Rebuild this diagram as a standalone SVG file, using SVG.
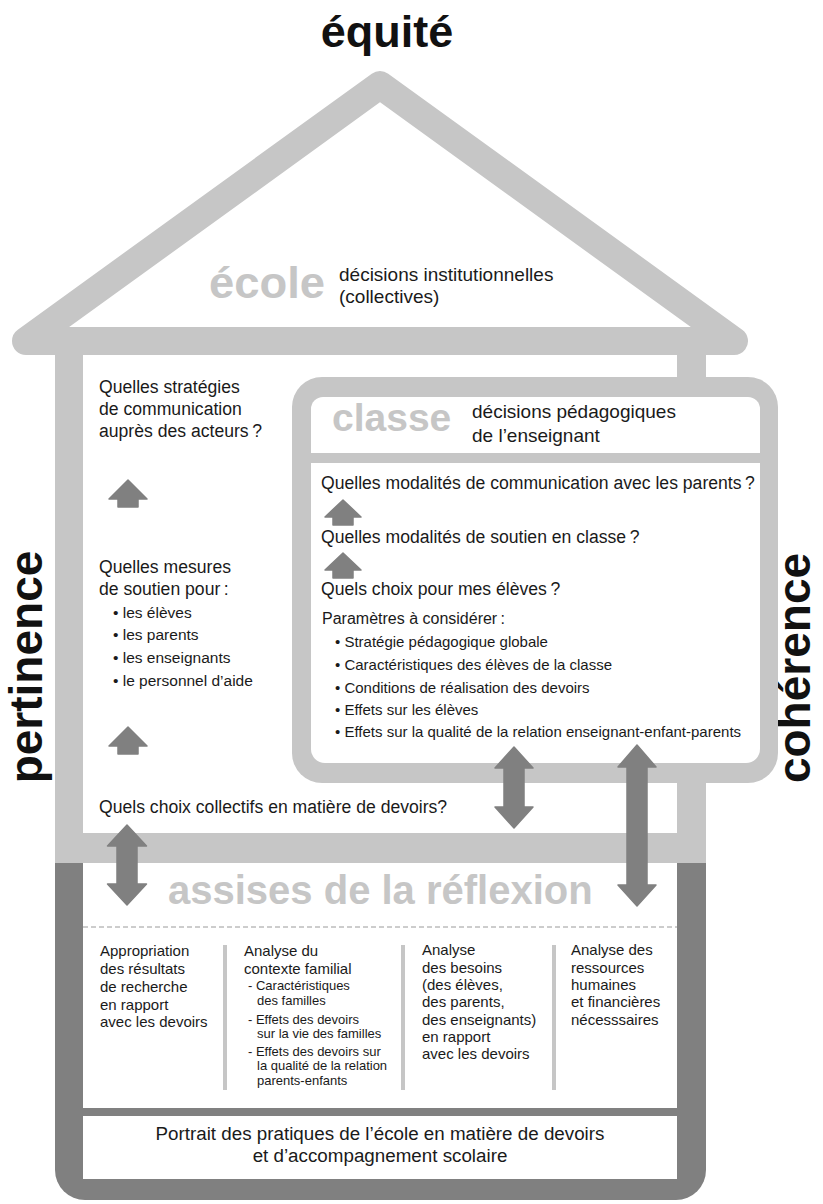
<svg xmlns="http://www.w3.org/2000/svg" width="823" height="1204" viewBox="0 0 823 1204">
<style>
text { font-family: "Liberation Sans", Arial, Helvetica, sans-serif; fill: #1a1a1a; }
.t { font-size: 17.6px; }
.s { font-size: 19px; }
.b { font-size: 15.5px; }
.p { font-size: 16px; }
.c { font-size: 15px; }
.m { font-size: 13px; }
.big { font-weight: bold; fill: #c6c6c6; }
.side { font-weight: bold; font-size: 46px; fill: #111; }
.lg { fill: #c6c6c6; }
.dg { fill: #808080; }
.wh { fill: #ffffff; }
.arrow { fill: #808080; stroke: #808080; stroke-width: 1.5; stroke-linejoin: round; }
</style>
<rect x="0" y="0" width="823" height="1204" fill="#ffffff"/>

<g id="house">
  <path d="M26,341 L380,85 L734,341 Z" fill="none" stroke="#c6c6c6" stroke-width="28" stroke-linejoin="round"/>
  <rect class="lg" x="55" y="341" width="28" height="500"/>
  <rect class="lg" x="677" y="341" width="29" height="500"/>
  <rect class="lg" x="55" y="833" width="651" height="30"/>
  <path class="dg" d="M55,863 H706 V1170 A30,30 0 0 1 676,1200 H85 A30,30 0 0 1 55,1170 Z"/>
  <rect class="wh" x="83" y="863" width="594" height="245"/>
  <rect class="wh" x="83" y="1116" width="594" height="63"/>
</g>

<g id="labels">
  <text x="387" y="47" text-anchor="middle" style="font-weight:bold;font-size:45px;fill:#111">équité</text>
  <text class="side" transform="translate(42,667) rotate(-90)" text-anchor="middle">pertinence</text>
  <text class="side" transform="translate(810,668) rotate(-90)" text-anchor="middle">cohérence</text>
</g>

<g id="ecole">
  <text class="big" x="209" y="298" style="font-size:44px" textLength="116" lengthAdjust="spacingAndGlyphs">école</text>
  <text class="s" x="339" y="281">décisions institutionnelles</text>
  <text class="s" x="339" y="303">(collectives)</text>
</g>

<g id="ecole-strategies">
  <text class="t" x="99" y="393">Quelles stratégies</text>
  <text class="t" x="99" y="415">de communication</text>
  <text class="t" x="99" y="437">auprès des acteurs&#8201;?</text>
</g>

<g id="ecole-mesures">
  <text class="t" x="99" y="573">Quelles mesures</text>
  <text class="t" x="99" y="595">de soutien pour&#8201;:</text>
  <text class="b" x="113" y="618">• les élèves</text>
  <text class="b" x="113" y="640">• les parents</text>
  <text class="b" x="113" y="663">• les enseignants</text>
  <text class="b" x="113" y="686">• le personnel d’aide</text>
</g>

<g id="ecole-choix">
  <text class="t" x="99" y="813">Quels choix collectifs en matière de devoirs?</text>
</g>

<g id="classe">
  <rect class="lg" x="292" y="377" width="486" height="406" rx="30"/>
  <path class="wh" d="M311,409 A12,12 0 0 1 323,397 H748 A12,12 0 0 1 760,409 V453 H311 Z"/>
  <path class="wh" d="M311,463 H760 V749 A14,14 0 0 1 746,763 H325 A14,14 0 0 1 311,749 Z"/>
  <text class="big" x="332" y="431" style="font-size:39px">classe</text>
  <text class="s" x="472" y="418">décisions pédagogiques</text>
  <text class="s" x="472" y="442">de l’enseignant</text>
  <text class="t" x="321" y="489">Quelles modalités de communication avec les parents&#8201;?</text>
  <text class="t" x="321" y="543">Quelles modalités de soutien en classe&#8201;?</text>
  <text class="t" x="321" y="595">Quels choix pour mes élèves&#8201;?</text>
  <text class="p" x="322" y="624">Paramètres à considérer&#8201;:</text>
  <text class="c" x="335" y="647">• Stratégie pédagogique globale</text>
  <text class="c" x="335" y="670">• Caractéristiques des élèves de la classe</text>
  <text class="c" x="335" y="693">• Conditions de réalisation des devoirs</text>
  <text class="c" x="335" y="715">• Effets sur les élèves</text>
  <text class="c" x="335" y="737">• Effets sur la qualité de la relation enseignant-enfant-parents</text>
</g>

<g id="assises">
  <text class="big" x="168" y="904" style="font-size:40px">assises de la réflexion</text>
  <line x1="83" y1="927" x2="677" y2="927" stroke="#9a9a9a" stroke-width="1" stroke-dasharray="5 3"/>
  <rect class="lg" x="223" y="945" width="4" height="145"/>
  <rect class="lg" x="401" y="945" width="4" height="145"/>
  <rect class="lg" x="552" y="945" width="4" height="145"/>
</g>

<g id="col-recherche">
  <text class="c" x="100" y="956">Appropriation</text>
  <text class="c" x="100" y="974">des résultats</text>
  <text class="c" x="100" y="992">de recherche</text>
  <text class="c" x="100" y="1010">en rapport</text>
  <text class="c" x="100" y="1027">avec les devoirs</text>
</g>

<g id="col-contexte">
  <text class="c" x="244" y="956">Analyse du</text>
  <text class="c" x="244" y="974">contexte familial</text>
  <text class="m" x="248" y="990">- Caractéristiques</text>
  <text class="m" x="257" y="1005">des familles</text>
  <text class="m" x="248" y="1024">- Effets des devoirs</text>
  <text class="m" x="257" y="1038">sur la vie des familles</text>
  <text class="m" x="248" y="1056">- Effets des devoirs sur</text>
  <text class="m" x="257" y="1070">la qualité de la relation</text>
  <text class="m" x="257" y="1085">parents-enfants</text>
</g>

<g id="col-besoins">
  <text class="c" x="422" y="955">Analyse</text>
  <text class="c" x="422" y="972.5">des besoins</text>
  <text class="c" x="422" y="990">(des élèves,</text>
  <text class="c" x="422" y="1007">des parents,</text>
  <text class="c" x="422" y="1025">des enseignants)</text>
  <text class="c" x="422" y="1042">en rapport</text>
  <text class="c" x="422" y="1059">avec les devoirs</text>
</g>

<g id="col-ressources">
  <text class="c" x="571" y="955">Analyse des</text>
  <text class="c" x="571" y="972.5">ressources</text>
  <text class="c" x="571" y="990">humaines</text>
  <text class="c" x="571" y="1007">et financières</text>
  <text class="c" x="571" y="1025">nécesssaires</text>
</g>

<g id="portrait">
  <text x="380" y="1140" text-anchor="middle" style="font-size:18.8px">Portrait des pratiques de l’école en matière de devoirs</text>
  <text x="380" y="1162" text-anchor="middle" style="font-size:18.8px">et d’accompagnement scolaire</text>
</g>

<g id="connectors">
  <path class="arrow" d="M128,480 L147,499 L138,499 L138,507 L118,507 L118,499 L109,499 Z"/>
  <path class="arrow" d="M128,727 L147,746 L138,746 L138,754 L118,754 L118,746 L109,746 Z"/>
  <path class="arrow" d="M343,500 L361,517 L353,517 L353,525 L333,525 L333,517 L325,517 Z"/>
  <path class="arrow" d="M343,553 L361,570 L353,570 L353,578 L333,578 L333,570 L325,570 Z"/>
  <path class="arrow" d="M127,825 L146.5,846 L137,846 L137,884 L146.5,884 L127,905 L107.5,884 L117,884 L117,846 L107.5,846 Z"/>
  <path class="arrow" d="M514,747 L533,768 L524,768 L524,807 L533,807 L514,828 L495,807 L504,807 L504,768 L495,768 Z"/>
  <path class="arrow" d="M637,745 L656,767 L647,767 L647,885 L656,885 L637,906 L618,885 L627,885 L627,767 L618,767 Z"/>
</g>
</svg>
